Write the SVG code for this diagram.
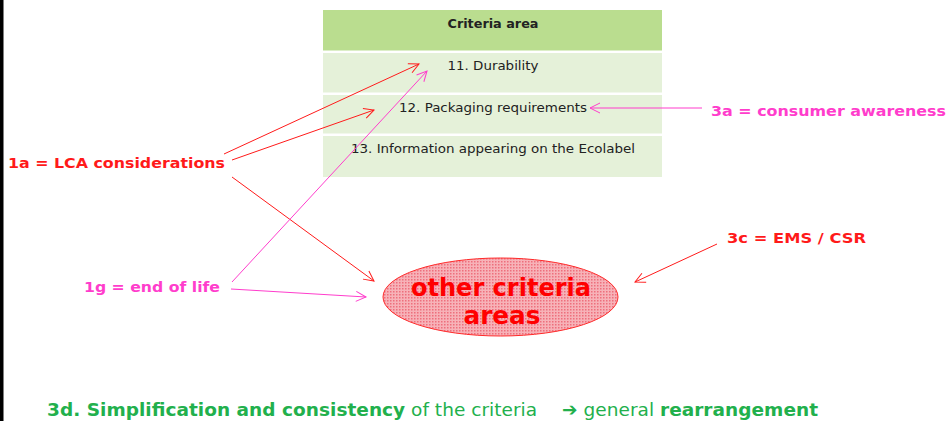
<svg xmlns="http://www.w3.org/2000/svg" width="949" height="421" viewBox="0 0 949 421">
  <style>
    .cell-head { fill: #badd8f; }
    .cell { fill: #e5f1d9; }
    .cell-text { font-family: "DejaVu Sans", Verdana, sans-serif; font-size: 12px; fill: #222; text-anchor: middle; }
    .lbl { font-family: "DejaVu Sans", Verdana, sans-serif; font-size: 14.5px; font-weight: bold; }
    .red { fill: #ff1a1a; }
    .pink { fill: #ff3dcc; }
    .ln-red { stroke: #ff1a1a; stroke-width: 1; fill: none; marker-end: url(#head-red); }
    .ln-pink { stroke: #ff3dcc; stroke-width: 1; fill: none; marker-end: url(#head-pink); }
    .foot { font-family: "DejaVu Sans", Verdana, sans-serif; font-size: 18.5px; fill: #22b04c; }
  </style>
  <defs>
    <marker id="head-red" markerWidth="14" markerHeight="14" refX="0" refY="0" viewBox="-12 -7 14 14" orient="auto" markerUnits="userSpaceOnUse">
      <path d="M-10,-5 L0,0 L-10,5" fill="none" stroke="#ff1a1a" stroke-width="1"/>
    </marker>
    <marker id="head-pink" markerWidth="14" markerHeight="14" refX="0" refY="0" viewBox="-12 -7 14 14" orient="auto" markerUnits="userSpaceOnUse">
      <path d="M-10,-5 L0,0 L-10,5" fill="none" stroke="#ff3dcc" stroke-width="1"/>
    </marker>
    <pattern id="dots" width="3" height="3" patternUnits="userSpaceOnUse">
      <rect width="3" height="3" fill="#f7b2b8"/>
      <rect width="1.5" height="1.5" fill="#ee6f7c"/>
    </pattern>
  </defs>

  <rect x="0" y="0" width="949" height="421" fill="#ffffff"/>
  <!-- left frame edge -->
  <rect x="0" y="0" width="3.5" height="421" fill="#000000"/>

  <!-- criteria table -->
  <g id="table">
    <rect class="cell-head" x="323" y="10" width="339" height="40.5"/>
    <text x="493" y="28" class="cell-text" font-weight="bold" textLength="91" lengthAdjust="spacingAndGlyphs">Criteria area</text>
    <g id="row11">
      <rect class="cell" x="323" y="53" width="339" height="39.5"/>
      <text x="493" y="70" class="cell-text" textLength="91" lengthAdjust="spacingAndGlyphs">11. Durability</text>
    </g>
    <g id="row12">
      <rect class="cell" x="323" y="95" width="339" height="38.5"/>
      <text x="493" y="112" class="cell-text" textLength="188" lengthAdjust="spacingAndGlyphs">12. Packaging requirements</text>
    </g>
    <g id="row13">
      <rect class="cell" x="323" y="136" width="339" height="41"/>
      <text x="493" y="153" class="cell-text" textLength="284" lengthAdjust="spacingAndGlyphs">13. Information appearing on the Ecolabel</text>
    </g>
  </g>

  <g id="other-areas">
    <ellipse cx="500.5" cy="297" rx="117.5" ry="39" fill="url(#dots)" stroke="#ff2a2a" stroke-width="1"/>
    <text x="501" y="296" font-family="DejaVu Sans, Verdana, sans-serif" font-size="25" font-weight="bold" fill="#ff0000" text-anchor="middle" textLength="180" lengthAdjust="spacingAndGlyphs">other criteria</text>
    <text x="502" y="324" font-family="DejaVu Sans, Verdana, sans-serif" font-size="25" font-weight="bold" fill="#ff0000" text-anchor="middle" textLength="77" lengthAdjust="spacingAndGlyphs">areas</text>
  </g>

  <g id="lca">
    <text x="8" y="168" class="lbl red" textLength="217" lengthAdjust="spacingAndGlyphs">1a = LCA considerations</text>
  </g>
  <g id="end-of-life">
    <text x="84" y="292" class="lbl pink" textLength="136" lengthAdjust="spacingAndGlyphs">1g = end of life</text>
  </g>
  <g id="consumer">
    <text x="711" y="116" class="lbl pink" textLength="235" lengthAdjust="spacingAndGlyphs">3a = consumer awareness</text>
  </g>
  <g id="ems">
    <text x="727" y="243" class="lbl red" textLength="139" lengthAdjust="spacingAndGlyphs">3c = EMS / CSR</text>
  </g>

  <g id="connectors">
    <line class="ln-red" x1="224" y1="154" x2="419" y2="64"/>
    <line class="ln-red" x1="232" y1="160" x2="374" y2="110"/>
    <line class="ln-red" x1="232" y1="177" x2="374" y2="281"/>
    <line class="ln-pink" x1="232" y1="282" x2="427" y2="71"/>
    <line class="ln-pink" x1="231" y1="289" x2="366" y2="297"/>
    <line class="ln-pink" x1="702" y1="108" x2="590" y2="108"/>
    <line class="ln-red" x1="717" y1="244" x2="635" y2="282"/>
  </g>

  <g id="footer">
    <text x="47" y="416" class="foot" textLength="771" lengthAdjust="spacing"><tspan font-weight="bold">3d. Simplification and consistency</tspan> of the criteria<tspan dx="25" font-weight="bold">➔</tspan> general <tspan font-weight="bold">rearrangement</tspan></text>
  </g>
</svg>
